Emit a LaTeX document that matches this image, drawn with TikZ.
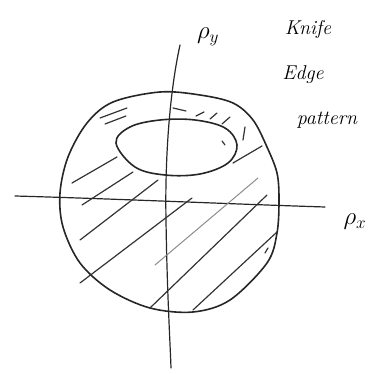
\documentclass[tikz,border=0pt]{standalone}
\tikzset{
  pen/.style={line width=1.6pt, line cap=round, line join=round, black!85},
  hatch/.style={line width=1.2pt, line cap=round, black!80},
  faint/.style={line width=1pt, line cap=round, black!45},
  hand/.style={font=\fontsize{20}{22}\selectfont\itshape, inner sep=0pt}
}
\begin{document}
\begin{tikzpicture}[x=1pt,y=-1pt]
\useasboundingbox (0,0) rectangle (384,374);
% axes
\draw[pen, line width=1.2pt] (15,196) .. controls (120,199) and (230,204) .. (325,207);
\draw[pen, line width=1.2pt] (180,45) .. controls (168,100) and (165,170) .. (166,220)
      .. controls (167,290) and (170,340) .. (171,368);
% outer contour
\draw[pen] plot[smooth cycle, tension=0.55] coordinates {
 (160,92) (200,95) (233,103) (253,120) (267,147) (277,173) (279,200) (277,233)
 (267,263) (230,300) (193,312) (150,308) (110,290) (80,263) (63,227) (60,193)
 (68,157) (87,123) (113,102)};
% inner ellipse
\draw[pen] plot[smooth cycle, tension=0.6] coordinates {
 (116,143) (130,127) (160,120) (195,120) (225,128) (237,145) (228,163)
 (200,174) (165,175) (135,167)};
% hatching
\draw[hatch] (72,183) -- (117,157);
\draw[hatch] (82,205) -- (133,172);
\draw[hatch] (80,240) -- (158,180);
\draw[hatch] (80,283) -- (192,198);
\draw[faint] (155,265) -- (258,178);
\draw[hatch] (150,308) -- (267,195);
\draw[hatch] (193,310) -- (277,232);
\draw[hatch] (233,163) -- (262,146);
\draw[hatch] (245,127) -- (243,140);
\draw[hatch] (222,141) -- (225,145);
\draw[hatch] (268,248) -- (265,253);
% top dashes
\draw[hatch] (100,118) -- (127,108);
\draw[hatch] (105,124) -- (126,116);
\draw[hatch] (173,108) -- (186,111);
\draw[hatch] (196,116) -- (204,112);
\draw[hatch] (210,119) -- (217,113);
\draw[hatch] (222,124) -- (230,117);
% labels
\node[hand, font=\fontsize{26}{28}\selectfont] (py) at (208,37) {$\rho_y$};
\node[hand, font=\fontsize{26}{28}\selectfont] (px) at (355,222) {$\rho_x$};
\node[hand] (k) at (308,30) {Knife};
\node[hand] (e) at (303,75) {Edge};
\node[hand] (p) at (327,120) {pattern};
\end{tikzpicture}
\end{document}
